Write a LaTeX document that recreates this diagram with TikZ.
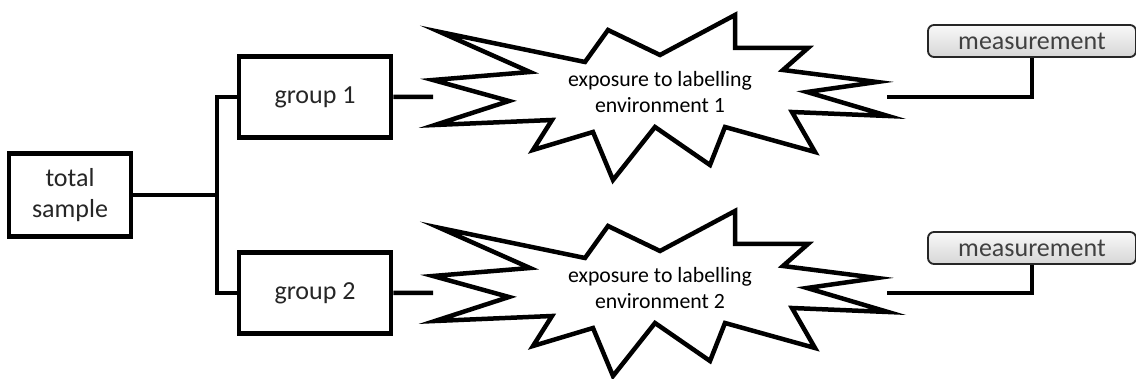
\documentclass[tikz,border=0pt]{standalone}
\usepackage{fontspec}
\setmainfont{Carlito}
\usetikzlibrary{positioning}

\begin{document}
\begin{tikzpicture}[
box/.style={rectangle, draw=black, line width=3.2pt, fill=white, align=center, text=black!85, font=\fontsize{18.5}{22}\selectfont},
meas/.style={rectangle, draw=black!85, line width=1.3pt, rounded corners=1.5mm, top color=gray!5, bottom color=gray!32, text=black!75, minimum width=5.2cm, minimum height=0.8cm, font=\fontsize{18.5}{22}\selectfont},
envtext/.style={align=center, font=\fontsize{15.5}{18}\selectfont},
link/.style={line width=3.2pt},
pics/burst/.style={code={
  \begin{scope}[x=0.25mm, y=-0.25mm]
  \draw[link] (-220,-60) -- (-75,-30) -- (-52,-62) -- (0,-37) -- (75,-77) -- (75,-44)
     -- (148,-44) -- (123,-22) -- (217,-10) -- (147,0) -- (228,24) -- (132,20)
     -- (155,60) -- (65,35) -- (50,73) -- (-5,35) -- (-47,88) -- (-67,40)
     -- (-127,58) -- (-108,28) -- (-225,33) -- (-151,9) -- (-227,-12) -- (-130,-20) -- cycle;
  \coordinate (-in) at (-227,5);
  \coordinate (-out) at (227,5);
  \end{scope}
}}
]
\useasboundingbox (-1.75,-4.6) rectangle (26.65,4.875);
%Nodes
\node[box, minimum width=3.05cm, minimum height=2.075cm] (total) {total\\sample};
\coordinate[right of = total, xshift= 2.675cm] (split);
\node[box, minimum width=3.8cm, minimum height=2.025cm] (g1) [right of = total, xshift= 5.125cm, yshift= 2.45cm] {group 1};
\node[box, minimum width=3.8cm, minimum height=2.025cm] (g2) [below of = g1, yshift= -3.9cm] {group 2};
\node[envtext] (e1) [right of = g1, xshift= 7.625cm, yshift= 0.125cm] {exposure to labelling\\environment 1};
\node[envtext] (e2) [right of = g2, xshift= 7.625cm, yshift= 0.125cm] {exposure to labelling\\environment 2};
\pic (s1) at (e1) {burst};
\pic (s2) at (e2) {burst};
\node[meas] (m1) [right of = e1, xshift= 8.3cm, yshift= 1.275cm] {measurement};
\node[meas] (m2) [right of = e2, xshift= 8.3cm, yshift= 1.0cm] {measurement};
%Lines
\draw[link] (total) -- (split);
\draw[link] (g1.west) -| (split) |- (g2.west);
\draw[link] (g1) -- (s1-in);
\draw[link] (g2) -- (s2-in);
\draw[link] (s1-out) -| (m1);
\draw[link] (s2-out) -| (m2);
\end{tikzpicture}
\end{document}
